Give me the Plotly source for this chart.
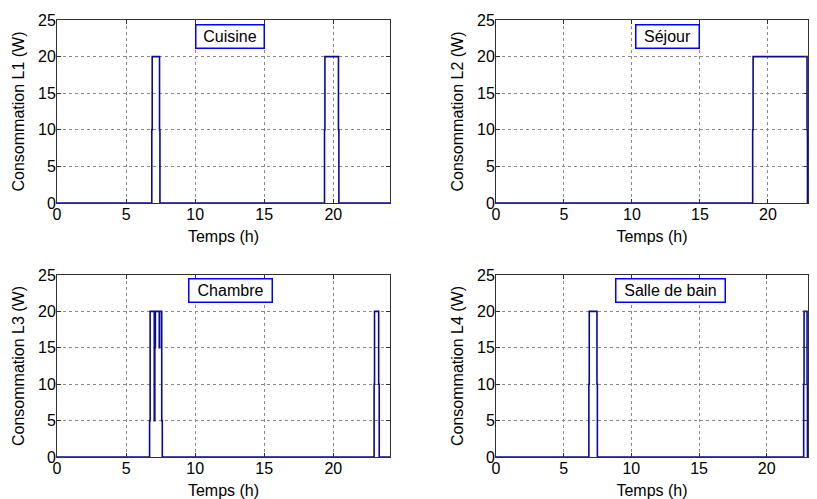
import plotly.graph_objects as go

# ---- data (hours, watts) : step breakpoints ----
t_cuisine = [0, 6.86, 6.89, 7.42, 7.45, 19.36, 19.39, 20.37, 20.40, 24.1]
p_cuisine = [0, 10, 20, 10, 0, 10, 20, 10, 0, 0]

t_sejour = [0, 18.88, 18.91, 22.88, 22.91, 22.95]
p_sejour = [0, 10, 20, 10, 0, 0]

t_chambre = [0, 6.70, 6.74, 7.04, 7.08, 7.12, 7.40, 7.43, 7.58, 7.62, 22.95, 22.98, 23.28, 23.32, 24.1]
p_chambre = [0, 5, 20, 5, 15, 20, 15, 20, 5, 0, 10, 20, 10, 0, 0]

t_bain = [0, 6.86, 6.89, 7.46, 7.49, 22.73, 22.76, 22.98, 23.01, 23.05]
p_bain = [0, 10, 20, 10, 0, 10, 20, 10, 0, 0]

rooms = ["Cuisine", "Séjour", "Chambre", "Salle de bain"]
ylabels = ["Consommation L1 (W)", "Consommation L2 (W)",
           "Consommation L3 (W)", "Consommation L4 (W)"]
xlabel = "Temps (h)"
x_ticks = [0, 5, 10, 15, 20]
y_ticks = [0, 5, 10, 15, 20, 25]

series = [(t_cuisine, p_cuisine), (t_sejour, p_sejour),
          (t_chambre, p_chambre), (t_bain, p_bain)]

# ---- layout geometry (page places the figure at an 8px offset) ----
OFF = 8
W, H = 817 - OFF, 499 - OFF
BOT = 457
ml, mr, mt = 57 - OFF, 0, 20 - OFF
mb = H - (BOT - OFF)
pw, ph = W - ml - mr, H - mt - mb

def xd(a, b):
    a, b = a - OFF, b - OFF
    return [max(0, (a - ml) / pw), min(1, (b - ml) / pw)]

def yd(top, bot):
    top, bot = top - OFF, bot - OFF
    return [max(0, (H - mb - bot) / ph), min(1, (H - mb - top) / ph)]

xdomains = [xd(57, 390), xd(496, 808), xd(57, 390), xd(496, 808)]
ydomains = [yd(20, 203), yd(20, 203), yd(275, BOT), yd(275, BOT)]
xranges = [[0, 24.1], [0, 22.95], [0, 24.1], [0, 23.05]]

# annotation boxes: (x data, y data, width)
boxes = [(12.54, 22.7, 67), (12.6, 22.7, 62), (12.54, 22.9, 82), (12.9, 22.9, 108)]

FONT = "Liberation Sans, Arial, sans-serif"
LINE = "#0A0A96"

fig = go.Figure()
layout = dict(
    width=W, height=H, template="none",
    margin=dict(l=ml, r=mr, t=mt, b=mb, autoexpand=False),
    paper_bgcolor="white", plot_bgcolor="white",
    showlegend=False,
    font=dict(family=FONT, size=16, color="black"),
    annotations=[],
)

for i, ((tx, py), room, yl) in enumerate(zip(series, rooms, ylabels)):
    n = "" if i == 0 else str(i + 1)
    fig.add_trace(go.Scatter(
        x=tx, y=py, mode="lines", line=dict(color=LINE, width=1.6, shape="hv"),
        xaxis="x" + n, yaxis="y" + n, hoverinfo="x+y",
    ))
    axcommon = dict(
        showline=True, linecolor="#303030", linewidth=1, mirror="ticks",
        ticks="inside", ticklen=4, tickcolor="#303030",
        showgrid=True, gridcolor="#8a8a8a", griddash="dot", gridwidth=1,
        zeroline=False, automargin=False, ticklabelstandoff=-3,
        tickfont=dict(family=FONT, size=16, color="black"),
    )
    layout["xaxis" + n] = dict(
        axcommon, domain=xdomains[i], range=xranges[i], tickvals=x_ticks,
        anchor="y" + n,
        title=dict(text=xlabel, font=dict(family=FONT, size=16), standoff=8),
    )
    layout["yaxis" + n] = dict(
        axcommon, domain=ydomains[i], range=[0, 25], tickvals=y_ticks,
        anchor="x" + n,
        title=dict(text=yl, font=dict(family=FONT, size=16), standoff=9),
    )
    bx, by, bw = boxes[i]
    layout["annotations"].append(dict(
        x=bx, y=by, xref="x" + n, yref="y" + n, text=room, showarrow=False,
        font=dict(family=FONT, size=16, color="black"),
        bgcolor="white", bordercolor="#0000FF", borderwidth=1.5,
        width=bw, height=22, borderpad=0, xanchor="center", yanchor="middle",
    ))

fig.update_layout(**layout)
fig.write_html("out.html")
